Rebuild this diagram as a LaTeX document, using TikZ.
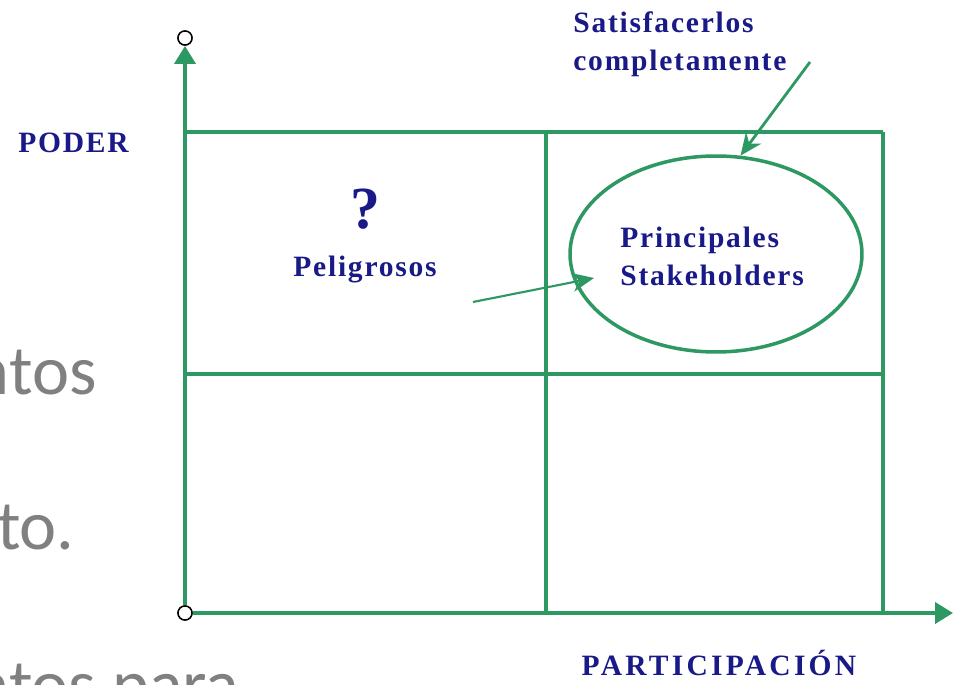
\documentclass[tikz,border=0pt]{standalone}
\usepackage{fontspec}
\usetikzlibrary{shapes.geometric,arrows.meta}
\newfontfamily\lblfont[LetterSpace=6]{Liberation Serif}
\newfontfamily\slidefont{Carlito}
\definecolor{quadgreen}{RGB}{46,152,98}
\definecolor{lblblue}{RGB}{25,25,135}
\definecolor{slidegray}{RGB}{128,128,128}

\begin{document}
\begin{tikzpicture}[x=0.02cm, y=-0.02cm,
  lbl/.style={text=lblblue, font=\lblfont\bfseries\fontsize{16.8}{21.6}\selectfont, inner sep=0pt},
  gridline/.style={draw=quadgreen, line width=2.2pt},
  axis/.style={gridline, -{Triangle[length=0.36cm,width=0.42cm]}},
  pointer/.style={draw=quadgreen, line width=1.6pt, -{Stealth[length=0.44cm,width=0.38cm]}},
  dot/.style={circle, draw=black, fill=white, line width=0.8pt, minimum size=0.28cm, inner sep=0pt}]
  \useasboundingbox (0,0) rectangle (957,685);
  % Slide text behind
  \begin{scope}
    \clip (0,0) rectangle (957,685);
    \node (slideA) [anchor=base east, text=slidegray, font=\slidefont\fontsize{40}{48}\selectfont, inner sep=0pt] at (97,395) {ntos};
    \node (slideB) [anchor=base east, text=slidegray, font=\slidefont\fontsize{40}{48}\selectfont, inner sep=0pt] at (75,550) {cto.};
    \node (slideC) [anchor=base east, text=slidegray, font=\slidefont\fontsize{40}{48}\selectfont, inner sep=0pt] at (240,708) {ntos para};
  \end{scope}
  % Grid
  \coordinate (topL) at (185,132);
  \coordinate (topR) at (883,132);
  \coordinate (midL) at (185,374);
  \coordinate (midR) at (883,374);
  \coordinate (colA) at (546,132);
  \coordinate (colAb) at (546,613);
  \coordinate (colB) at (883,132);
  \coordinate (colBb) at (883,613);
  \draw[gridline] (topL) -- (topR);
  \draw[gridline] (midL) -- (midR);
  \draw[gridline] (colA) -- (colAb);
  \draw[gridline] (colB) -- (colBb);
  % Axes
  \coordinate (ytip) at (185,46);
  \coordinate (xtip) at (953,613);
  \node (origin) [dot] at (185,613) {};
  \node (ytop) [dot] at (185,38) {};
  \draw[axis] (origin) -- (ytip);
  \draw[axis] (origin) -- (xtip);
  \node [dot] at (origin) {};
  \node [dot] at (ytop) {};
  % Nodes
  \node (stake) [ellipse, draw=quadgreen, line width=2pt, minimum width=5.84cm, minimum height=3.92cm, inner sep=0pt] at (716,254) {};
  \node (stakeText) [lbl, anchor=west, align=left] at (620,256) {Principales\\Stakeholders};
  \node (satis) [lbl, anchor=west, align=left] at (573,44) {Satisfacerlos\\completamente};
  \node (poder) [lbl, anchor=base west] at (18,153) {PODER};
  \node (quest) [lbl, anchor=base, font=\lblfont\bfseries\fontsize{34}{40}\selectfont] at (365,229) {?};
  \node (pelig) [lbl, anchor=base] at (365,277) {Peligrosos};
  \node (partic) [lbl, anchor=base, font=\lblfont\bfseries\fontsize{16.8}{21.6}\selectfont\addfontfeature{LetterSpace=11}] at (719,675) {PARTICIPACIÓN};
  % Arrows
  \coordinate (satisTail) at (810,62);
  \coordinate (peligTail) at (473,302);
  \coordinate (stakeIn) at (594,278);
  \draw[pointer] (satisTail) -- (stake.76);
  \draw[pointer, line width=1.2pt] (peligTail) -- (stakeIn);
\end{tikzpicture}
\end{document}
